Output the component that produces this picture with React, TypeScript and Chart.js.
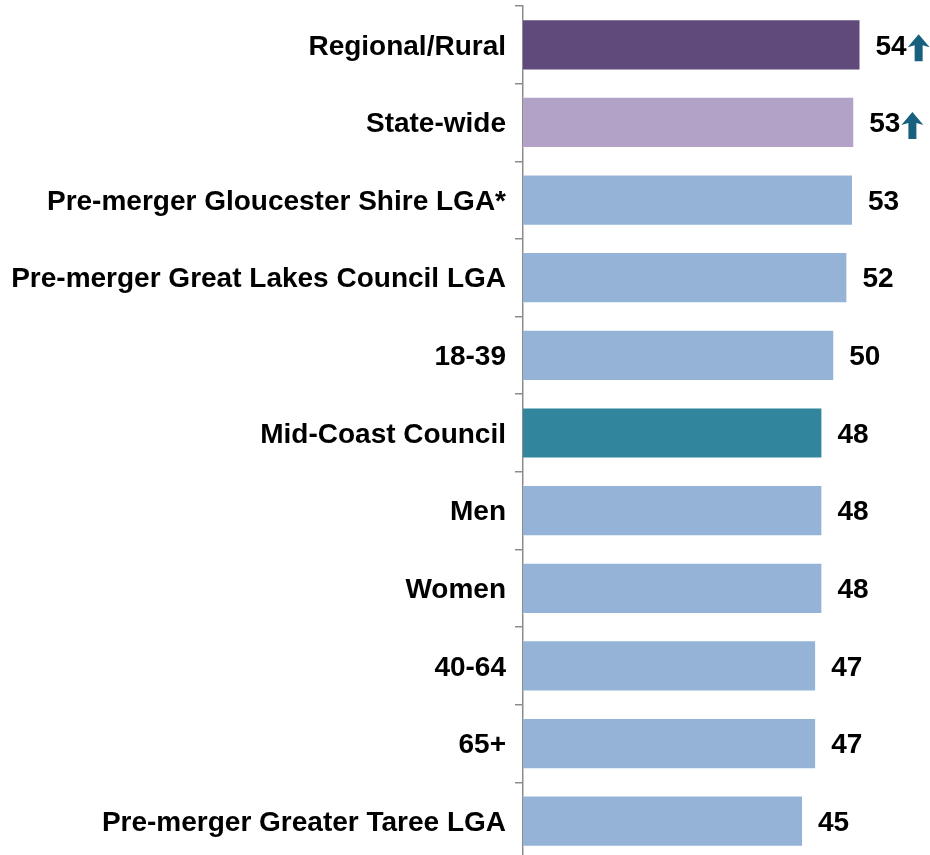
import React, { useEffect, useRef } from "react";
import { Chart, registerables } from "chart.js";

Chart.register(...registerables);

const categories = [
  "Regional/Rural",
  "State-wide",
  "Pre-merger Gloucester Shire LGA*",
  "Pre-merger Great Lakes Council LGA",
  "18-39",
  "Mid-Coast Council",
  "Men",
  "Women",
  "40-64",
  "65+",
  "Pre-merger Greater Taree LGA",
];
const values = [54.0, 53.0, 52.8, 51.9, 49.8, 47.9, 47.9, 47.9, 46.9, 46.9, 44.8];
const valueLabels = ["54", "53", "53", "52", "50", "48", "48", "48", "47", "47", "45"];
const upArrows = [true, true, false, false, false, false, false, false, false, false, false];
const barColors = [
  "#604a7b",
  "#b3a2c7",
  "#95b3d7",
  "#95b3d7",
  "#95b3d7",
  "#31859c",
  "#95b3d7",
  "#95b3d7",
  "#95b3d7",
  "#95b3d7",
  "#95b3d7",
];
const FONT = "'Liberation Sans', Arial, sans-serif";

const valuePlugin = {
  id: "valueLabels",
  afterDatasetsDraw(chart: any) {
    const ctx = chart.ctx;
    const meta = chart.getDatasetMeta(0);
    ctx.save();
    ctx.font = `bold 28px ${FONT}`;
    ctx.textBaseline = "middle";
    ctx.textAlign = "left";
    meta.data.forEach((bar: any, i: number) => {
      const x = bar.x + 15;
      const y = bar.y + 2;
      const txt = valueLabels[i];
      ctx.fillStyle = "#000";
      ctx.fillText(txt, x, y);
      if (upArrows[i]) {
        const w = ctx.measureText(txt).width;
        const ax = x + w + 1;
        const top = bar.y - 10.5;
        const cx = ax + 11;
        ctx.fillStyle = "#17617e";
        ctx.beginPath();
        ctx.moveTo(cx, top);
        ctx.lineTo(ax + 22, top + 13);
        ctx.lineTo(cx + 4, top + 11);
        ctx.lineTo(cx + 4, top + 27);
        ctx.lineTo(cx - 4, top + 27);
        ctx.lineTo(cx - 4, top + 11);
        ctx.lineTo(ax, top + 13);
        ctx.closePath();
        ctx.fill();
      }
    });
    ctx.restore();
  },
};

export default function App() {
  const ref = useRef<HTMLCanvasElement>(null);
  useEffect(() => {
    if (!ref.current) return;
    const chart = new Chart(ref.current, {
      type: "bar",
      data: {
        labels: categories,
        datasets: [
          {
            data: values,
            backgroundColor: barColors,
            borderColor: "rgba(255,255,255,0.5)",
            borderWidth: 1,
            categoryPercentage: 1,
            barPercentage: 0.66,
          },
        ],
      },
      options: {
        indexAxis: "y",
        animation: false,
        responsive: false,
        maintainAspectRatio: false,
        layout: { padding: { top: 6, right: 2, bottom: 0, left: 0 } },
        plugins: { legend: { display: false }, tooltip: { enabled: false } },
        scales: {
          x: { display: false, min: 0, max: 64.8 },
          y: {
            afterFit: (s: any) => {
              s.width = 523;
              s.paddingTop = 0;
              s.paddingBottom = 0;
            },
            border: { display: true, color: "#8c8c8c", width: 1.5 },
            grid: {
              offset: true,
              drawOnChartArea: false,
              drawTicks: true,
              tickLength: 8,
              color: "#8c8c8c",
              lineWidth: 1.5,
            },
            ticks: {
              color: "#000",
              padding: 9,
              labelOffset: 2,
              font: { family: FONT, size: 28, weight: "bold" },
            },
          },
        },
      },
      plugins: [valuePlugin],
    } as any);
    return () => chart.destroy();
  }, []);
  return (
    <div
      style={{
        position: "fixed",
        left: 0,
        top: 0,
        width: 930,
        height: 855,
        overflow: "hidden",
        background: "#fff",
      }}
    >
      <canvas ref={ref} width={930} height={860} style={{ display: "block" }} />
    </div>
  );
}
